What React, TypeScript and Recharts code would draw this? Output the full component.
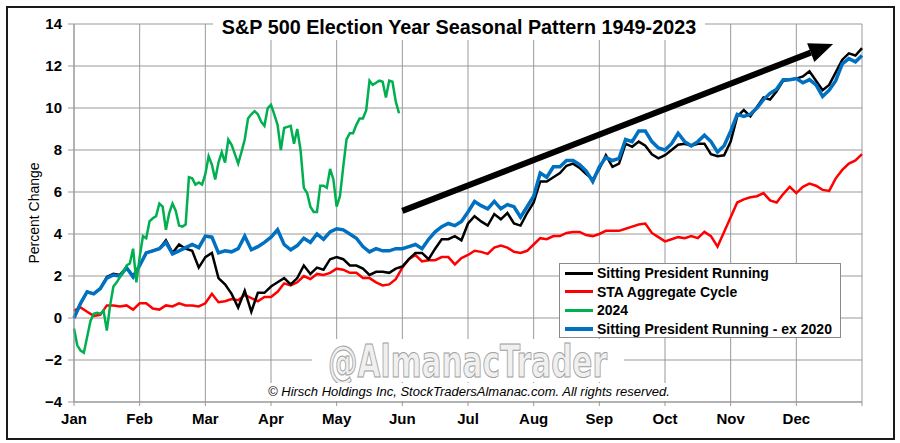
import { LineChart, Line, XAxis, YAxis, CartesianGrid, ReferenceLine, Legend } from 'recharts';

const FONT = '"Liberation Sans", Arial, sans-serif';

const monthLabels = ['Jan', 'Feb', 'Mar', 'Apr', 'May', 'Jun', 'Jul', 'Aug', 'Sep', 'Oct', 'Nov', 'Dec'];
const monthTicks = [0, 1, 2, 3, 4, 5, 6, 7, 8, 9, 10, 11, 12];
const yTicks = [-4, -2, 0, 2, 4, 6, 8, 10, 12, 14];

// values every 0.1 month, Jan 1 (0) to Dec 31 (12)
const sittingPresident = [
  0, 0.7, 1.25, 1.15, 1.4, 1.95, 2.1, 2.05, 2.4, 2.0,
  2.5, 3.1, 3.2, 3.3, 3.7, 3.1, 3.5, 3.3, 3.2, 2.4,
  2.9, 3.1, 1.9, 1.6, 1.15, 0.5, 1.3, 0.3, 1.2, 1.2,
  1.5, 1.7, 1.9, 1.6, 1.9, 2.5, 2.1, 2.4, 2.3, 2.8,
  2.9, 2.8, 2.5, 2.5, 2.35, 2.05, 2.2, 2.2, 2.15, 2.35,
  2.45, 2.8, 3.1, 3.1, 2.8, 3.3, 3.75, 3.75, 3.9, 3.7,
  4.5, 4.85, 4.6, 4.4, 4.95, 4.7, 5.0, 4.5, 4.4, 5.0,
  5.5, 6.5, 6.5, 6.7, 6.9, 7.25, 7.35, 7.15, 6.85, 6.6,
  7.1, 7.75, 7.2, 7.35, 8.3, 8.15, 8.4, 8.2, 7.8, 7.6,
  7.75, 8.0, 8.25, 8.3, 8.2, 8.3, 8.3, 7.8, 7.7, 7.75,
  8.4, 9.6, 9.9, 9.6, 10.05, 10.5, 10.4, 10.8, 11.3, 11.35,
  11.4, 11.5, 11.75, 11.3, 10.85, 11.1, 11.7, 12.3, 12.6, 12.5,
  12.85,
];

const staAggregate = [
  0.35, 0.5, 0.3, 0.1, 0.15, 0.6, 0.6, 0.55, 0.6, 0.4,
  0.7, 0.7, 0.45, 0.4, 0.6, 0.55, 0.7, 0.6, 0.6, 0.55,
  0.7, 1.15, 0.75, 0.8, 0.9, 0.85, 1.1, 0.95, 0.8, 1.0,
  1.0, 1.25, 1.65, 1.55, 1.7, 2.0, 1.85, 2.1, 2.05, 2.15,
  2.35, 2.3, 2.15, 2.15, 1.9, 1.9, 1.7, 1.55, 1.6, 1.85,
  2.4, 2.8, 3.0, 2.7, 2.75, 2.75, 2.9, 2.9, 2.55, 2.85,
  3.0, 3.2, 3.15, 3.05, 3.35, 3.45, 3.35, 3.15, 3.1, 3.2,
  3.5, 3.8, 3.75, 3.9, 3.9, 4.05, 4.1, 4.1, 3.95, 3.9,
  4.0, 4.15, 4.15, 4.15, 4.25, 4.35, 4.45, 4.5, 4.05, 3.85,
  3.65, 3.75, 3.85, 3.8, 3.9, 3.8, 4.1, 3.9, 3.4, 4.1,
  4.8, 5.5, 5.65, 5.75, 5.8, 5.95, 5.6, 5.5, 5.9, 6.25,
  5.95, 6.25, 6.4, 6.3, 6.1, 6.05, 6.65, 7.05, 7.35, 7.5,
  7.8,
];

const sittingEx2020 = [
  0, 0.7, 1.25, 1.15, 1.4, 1.9, 2.05, 2.0, 2.4, 1.95,
  2.5, 3.1, 3.2, 3.3, 3.6, 3.05, 3.2, 3.35, 3.5, 3.35,
  3.9, 3.85, 3.1, 3.2, 3.15, 3.3, 3.9, 3.25, 3.4, 3.6,
  3.85, 4.2, 3.5, 3.25, 3.45, 3.8, 3.6, 4.0, 3.75, 4.1,
  4.25, 4.2, 4.0, 3.8, 3.4, 3.15, 3.3, 3.2, 3.2, 3.3,
  3.3, 3.4, 3.5, 3.3, 3.75, 4.1, 4.35, 4.5, 4.4, 4.6,
  5.05, 5.55, 5.35, 5.2, 5.55, 5.2, 5.4, 5.3, 4.8, 5.3,
  5.8, 6.9, 6.7, 7.2, 7.2, 7.5, 7.5, 7.3, 7.0, 6.5,
  7.2, 7.65, 7.5, 7.6, 8.5, 8.4, 8.9, 8.9, 8.4, 8.1,
  8.0, 8.3, 8.8, 8.4, 8.2, 8.4, 8.7, 8.4, 7.9, 8.2,
  8.9, 9.7, 9.6, 9.7, 10.0, 10.4, 10.7, 10.9, 11.35, 11.35,
  11.4, 11.2, 11.35, 11.1, 10.55, 10.85, 11.3, 12.1, 12.35, 12.2,
  12.5,
];

// 2024 year to date, every 0.05 month
const year2024 = [
  -0.5, -1.3, -1.55, -1.65, -0.9, -0.15, 0.2, 0.25, 0.2, 0.35,
  -0.6, 0.6, 1.5, 1.7, 1.95, 2.2, 2.5, 2.6, 3.3, 1.7,
  2.9, 3.9, 3.8, 4.6, 4.75, 4.85, 5.45, 5.3, 4.2, 5.0,
  5.45, 5.1, 4.4, 4.35, 4.45, 6.7, 6.65, 6.35, 6.45, 6.35,
  6.85, 7.7, 7.3, 6.6, 7.4, 7.9, 7.4, 8.5, 8.25, 7.8,
  7.35, 7.9, 8.5, 9.5, 9.7, 9.85, 9.7, 9.35, 9.15, 10.0,
  10.15, 9.7, 9.2, 8.0, 9.05, 9.1, 9.15, 8.3, 9.0, 8.0,
  6.2, 5.95, 5.3, 5.05, 5.05, 6.3, 6.3, 6.2, 7.1, 6.6,
  5.3, 5.8, 7.2, 8.5, 8.8, 8.8, 9.2, 9.5, 9.5, 9.9,
  11.3, 11.1, 11.2, 11.3, 11.25, 10.5, 11.3, 11.25, 10.3, 9.75,
];

const STEP = 0.1;
const STEP_2024 = 0.05;

const trendArrow = [
  { x: 5.0, y: 5.1 },
  { x: 11.56, y: 13.05 },
];

const legendItems = [
  { label: 'Sitting President Running', color: '#000000', width: 3 },
  { label: 'STA Aggregate Cycle', color: '#ff0000', width: 3 },
  { label: '2024', color: '#00b050', width: 3 },
  { label: 'Sitting President Running - ex 2020', color: '#0070c0', width: 4 },
];

const rows = sittingPresident.map((v, i) => ({
  m: i * STEP,
  sitting: v,
  sta: staAggregate[i],
  ex2020: sittingEx2020[i],
}));

const rows2024 = year2024.map((v, i) => ({ m: i * STEP_2024, y2024: v }));

// eslint-disable-next-line @typescript-eslint/no-explicit-any
function ArrowShape(props: any) {
  const { x1, y1, x2, y2 } = props;
  const ang = Math.atan2(y2 - y1, x2 - x1);
  const headLen = 24;
  const half = 10;
  const bx = x2 - headLen * Math.cos(ang);
  const by = y2 - headLen * Math.sin(ang);
  const px = -Math.sin(ang) * half;
  const py = Math.cos(ang) * half;
  return (
    <g>
      <line x1={x1} y1={y1} x2={bx} y2={by} stroke="#000" strokeWidth={6} />
      <polygon points={`${x2},${y2} ${bx + px},${by + py} ${bx - px},${by - py}`} fill="#000" />
    </g>
  );
}

function LegendBox() {
  return (
    <div
      style={{
        border: '1px solid #8a8a8a',
        background: '#fff',
        boxSizing: 'border-box',
        width: 282,
        height: 75,
        fontFamily: FONT,
        fontWeight: 'bold',
        fontSize: 14,
        color: '#000',
      }}
    >
      {legendItems.map((it) => (
        <div key={it.label} style={{ display: 'flex', alignItems: 'center', height: 18.5, whiteSpace: 'nowrap' }}>
          <span style={{ display: 'inline-block', marginLeft: 5, width: 28, height: it.width, background: it.color }} />
          <span style={{ marginLeft: 4 }}>{it.label}</span>
        </div>
      ))}
    </div>
  );
}

const gray = '#999999';

export default function App() {
  return (
    <div style={{ position: 'absolute', left: 0, top: 0, width: 900, height: 443, background: '#fff', fontFamily: FONT }}>
      <LineChart width={900} height={443} data={rows} margin={{ top: 24, right: 38, bottom: 0, left: 0 }}>
        <CartesianGrid stroke={gray} strokeWidth={1} />
        <XAxis
          dataKey="m"
          type="number"
          domain={[0, 12]}
          ticks={monthTicks}
          interval={0}
          tickFormatter={(v: number) => monthLabels[v] ?? ''}
          height={41}
          tickSize={4}
          tickMargin={7}
          axisLine={{ stroke: gray }}
          tickLine={{ stroke: gray }}
          tick={{ fontFamily: FONT, fontWeight: 'bold', fontSize: 15, fill: '#000' }}
        />
        <YAxis
          type="number"
          domain={[-4, 14]}
          ticks={yTicks}
          interval={0}
          width={74}
          tickSize={6}
          tickMargin={6}
          tickFormatter={(v: number) => (v < 0 ? `\u2212${Math.abs(v)}` : String(v))}
          axisLine={{ stroke: gray }}
          tickLine={{ stroke: gray }}
          tick={{ fontFamily: FONT, fontWeight: 'bold', fontSize: 15, fill: '#000' }}
          label={{
            value: 'Percent Change',
            angle: -90,
            position: 'center',
            dx: -3,
            style: { fontFamily: FONT, fontSize: 14, fill: '#000' },
          }}
        />
        <Line type="linear" dataKey="sta" stroke="#ff0000" strokeWidth={2.5} dot={false} isAnimationActive={false} />
        <Line type="linear" dataKey="sitting" stroke="#000000" strokeWidth={2.5} dot={false} isAnimationActive={false} />
        <Line type="linear" dataKey="ex2020" stroke="#0070c0" strokeWidth={3.5} dot={false} isAnimationActive={false} />
        <Line
          type="linear"
          data={rows2024}
          dataKey="y2024"
          stroke="#00b050"
          strokeWidth={2.5}
          dot={false}
          isAnimationActive={false}
        />
        <ReferenceLine segment={trendArrow} shape={ArrowShape} ifOverflow="visible" />
        <Legend
          layout="vertical"
          align="center"
          verticalAlign="middle"
          content={() => <LegendBox />}
          wrapperStyle={{ left: 559, top: 263, width: 282, height: 75 }}
        />
      </LineChart>

      {/* title */}
      <div
        style={{
          position: 'absolute',
          left: 213,
          top: 14,
          width: 492,
          height: 26,
          lineHeight: '26px',
          background: '#fff',
          textAlign: 'center',
          fontWeight: 'bold',
          fontSize: 19.8,
          color: '#000',
          whiteSpace: 'nowrap',
        }}
      >
        S&amp;P 500 Election Year Seasonal Pattern 1949-2023
      </div>

      {/* watermark */}
      <div style={{ position: 'absolute', left: 312, top: 339, width: 312, height: 43, background: '#fff' }}>
        <svg width={312} height={43} style={{ overflow: 'visible' }}>
          <text
            x={16}
            y={38}
            textLength={279}
            lengthAdjust="spacingAndGlyphs"
            fontFamily='"Liberation Sans Narrow", "DejaVu Sans Condensed", sans-serif'
            fontWeight="bold"
            fontSize={44}
            fill="#f0f0f0"
            stroke="#a0a0a0"
            strokeWidth={1}
          >
            @AlmanacTrader
          </text>
        </svg>
      </div>

      {/* copyright */}
      <div
        style={{
          position: 'absolute',
          left: 266,
          top: 383,
          width: 406,
          height: 18,
          lineHeight: '18px',
          background: '#fff',
          textAlign: 'center',
          fontStyle: 'italic',
          fontSize: 13,
          color: '#000',
          whiteSpace: 'nowrap',
        }}
      >
        © Hirsch Holdings Inc, StockTradersAlmanac.com. All rights reserved.
      </div>

      {/* frame */}
      <div
        style={{
          position: 'absolute',
          left: 6,
          top: 6,
          width: 889,
          height: 434,
          border: '2px solid #1a1a1a',
          boxSizing: 'border-box',
          pointerEvents: 'none',
        }}
      />
    </div>
  );
}
